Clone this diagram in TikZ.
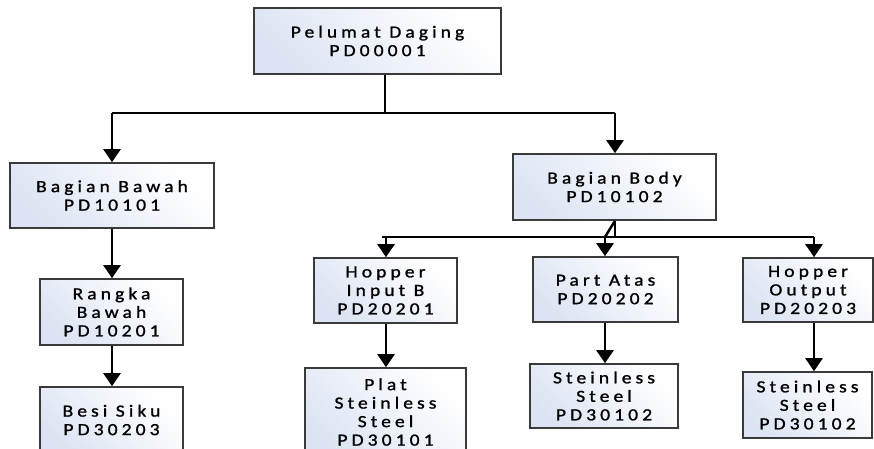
\documentclass[tikz,border=0pt]{standalone}
\usepackage{fontspec}
\setmainfont{Carlito}
\usetikzlibrary{arrows.meta}
\definecolor{boxedge}{HTML}{3A3A3A}
\definecolor{boxtint}{HTML}{DCE4F3}
\tikzset{
  part/.style={draw=boxedge, line width=1.6pt, left color=boxtint, right color=white,
    shading angle=135, align=center, inner sep=0pt,
    font=\fontsize{17}{18.5}\selectfont\addfontfeatures{LetterSpace=24,FakeStretch=1.15,FakeBold=1.2}},
  conn/.style={line width=2.5pt, black},
  arr/.style={conn, -{Triangle[width=17pt,length=13pt]}}
}
\begin{document}
\begin{tikzpicture}[x=1pt, y=-1pt]
\useasboundingbox (0,0) rectangle (874,449);
% product and its components
\node[part, minimum width=247pt, minimum height=66pt] (top) at (377.5,41) {Pelumat Daging\\PD00001};
\node[part, minimum width=204pt, minimum height=65pt] (bawah) at (112,195.5) {Bagian Bawah\\PD10101};
\node[part, minimum width=143pt, minimum height=66pt] (rangka) at (111.5,312) {Rangka\\Bawah\\PD10201};
\node[part, minimum width=143pt, minimum height=66pt] (besi) at (111.5,420) {Besi Siku\\PD30203};
\node[part, minimum width=203pt, minimum height=66pt] (body) at (614.5,187) {Bagian Body\\PD10102};
\node[part, minimum width=143pt, minimum height=65pt] (hopin) at (385.5,290.5) {Hopper\\Input B\\PD20201};
\node[part, minimum width=161pt, minimum height=88pt] (plat) at (385.5,412) {Plat\\Steinless\\Steel\\PD30101};
\node[part, minimum width=145pt, minimum height=65pt] (atas) at (605.5,289.5) {Part Atas\\PD20202};
\node[part, minimum width=148pt, minimum height=64pt] (steinmid) at (604,396) {Steinless\\Steel\\PD30102};
\node[part, minimum width=130pt, minimum height=64pt] (hopout) at (808,290) {Hopper\\Output\\PD20203};
\node[part, minimum width=129pt, minimum height=66pt] (steinright) at (807.5,405) {Steinless\\Steel\\PD30102};
% junction points of the branch lines
\coordinate (ta) at (385,113);
\coordinate (tl) at (112,113);
\coordinate (tr) at (615,113);
\coordinate (ba) at (615,237);
\coordinate (bl) at (386,237);
\coordinate (bm) at (605,237);
\coordinate (br) at (814,237);
% first level
\draw[conn] (top.south -| ta) -- (ta);
\draw[conn] (tl) -- (tr);
\draw[arr] (tl) -- (bawah.north -| tl);
\draw[arr] (tr) -- (body.north -| tr);
% left branch
\draw[arr] (bawah.south -| tl) -- (rangka.north -| tl);
\draw[arr] (rangka.south -| tl) -- (besi.north -| tl);
% body branch
\draw[conn] (body.south -| ba) -- (ba);
\draw[conn] (body.south -| ba) -- (bm);
\draw[conn] ([xshift=-4pt]bl) -- (br);
\draw[arr] (bl) -- (hopin.north -| bl);
\draw[arr] (bm) -- (atas.north -| bm);
\draw[arr] (br) -- (hopout.north -| br);
\draw[arr] (hopin.south -| bl) -- (plat.north -| bl);
\draw[arr] (atas.south -| bm) -- (steinmid.north -| bm);
\draw[arr] (hopout.south -| br) -- (steinright.north -| br);
\end{tikzpicture}
\end{document}
